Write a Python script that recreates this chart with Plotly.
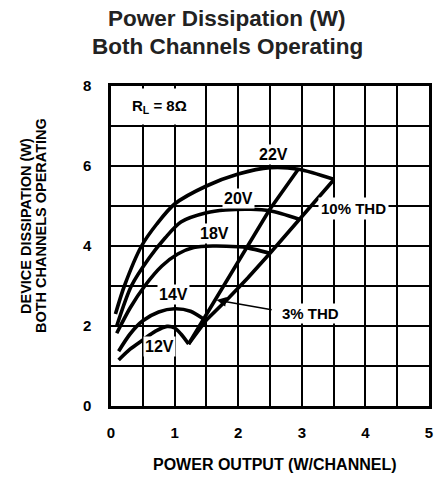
import plotly.graph_objects as go

# ---- data ----
v22_x = [0.07, 0.21, 0.48, 0.72, 1.0, 1.5, 2.0, 2.5, 2.95, 3.5]
v22_y = [2.3, 3.0, 4.0, 4.55, 5.05, 5.5, 5.8, 5.96, 5.92, 5.67]

v20_x = [0.09, 0.32, 0.6, 0.85, 1.1, 1.5, 1.8, 2.2, 2.5, 2.96]
v20_y = [2.0, 3.0, 3.7, 4.2, 4.6, 4.83, 4.9, 4.92, 4.88, 4.67]

v18_x = [0.09, 0.3, 0.53, 0.8, 1.05, 1.3, 1.6, 2.0, 2.13, 2.5]
v18_y = [1.82, 2.45, 3.0, 3.5, 3.8, 3.96, 4.0, 3.98, 3.96, 3.82]

v14_x = [0.12, 0.3, 0.5, 0.75, 1.0, 1.25, 1.45]
v14_y = [1.37, 1.8, 2.13, 2.35, 2.43, 2.37, 2.18]

v12_x = [0.12, 0.3, 0.5, 0.7, 0.88, 1.0, 1.1, 1.22]
v12_y = [1.15, 1.42, 1.65, 1.87, 1.99, 1.95, 1.8, 1.55]

thd3_x = [1.22, 1.82, 2.13, 2.49, 2.95]
thd3_y = [1.55, 3.15, 3.97, 4.9, 5.93]

thd10_x = [1.22, 1.5, 1.85, 2.15, 2.5, 2.96, 3.5]
thd10_y = [1.55, 2.15, 2.7, 3.2, 3.82, 4.67, 5.65]

curve_names = ["22V", "20V", "18V", "14V", "12V"]
label_x = [2.55, 2.0, 1.635, 0.98, 0.77]
label_y = [6.28, 5.19, 4.32, 2.78, 1.48]

x_tickvals = [0, 0.5, 1, 1.5, 2, 2.5, 3, 3.5, 4, 4.5, 5]
x_ticktext = ["0", "", "1", "", "2", "", "3", "", "4", "", "5"]
y_tickvals = [0, 1, 2, 3, 4, 5, 6, 7, 8]
y_ticktext = ["0", "", "2", "", "4", "", "6", "", "8"]

title_lines = ["Power Dissipation (W)", "Both Channels Operating"]
x_title = "POWER OUTPUT (W/CHANNEL)"
y_title_lines = ["DEVICE DISSIPATION (W)", "BOTH CHANNELS OPERATING"]
rl_text = "R<sub>L</sub> = 8Ω"

FONT = "Liberation Sans, Arial, Helvetica, sans-serif"
LW = 3.6

W, H = 437, 478
ML, MR, MT, MB = 111, 8, 86, 72
PW, PH = W - ML - MR, H - MT - MB


def px_to_paper(px, py):
    return (px - ML) / PW, (H - MB - py) / PH


def bfont(size, color="black"):
    return dict(family=FONT, size=size, color=color, weight="bold")


fig = go.Figure()
for xs, ys in [(v22_x, v22_y), (v20_x, v20_y), (v18_x, v18_y), (v14_x, v14_y), (v12_x, v12_y)]:
    fig.add_trace(go.Scatter(x=xs, y=ys, mode="lines",
                             line=dict(color="black", width=LW, shape="spline", smoothing=0.8),
                             hoverinfo="skip", showlegend=False))
for xs, ys in [(thd3_x, thd3_y), (thd10_x, thd10_y)]:
    fig.add_trace(go.Scatter(x=xs, y=ys, mode="lines",
                             line=dict(color="black", width=LW),
                             hoverinfo="skip", showlegend=False))

annotations = []
for name, lx, ly in zip(curve_names, label_x, label_y):
    annotations.append(dict(x=lx, y=ly, xref="x", yref="y", text=name,
                            showarrow=False, bgcolor="white", borderpad=1,
                            font=bfont(16)))
annotations.append(dict(x=3.81, y=4.94, xref="x", yref="y", text="10% THD",
                        showarrow=False, bgcolor="white", borderpad=2, font=bfont(15)))
annotations.append(dict(x=3.13, y=2.32, xref="x", yref="y", text="3% THD",
                        showarrow=False, bgcolor="white", borderpad=1, font=bfont(15)))
annotations.append(dict(x=1.66, y=2.65, xref="x", yref="y", ax=2.55, ay=2.4,
                        axref="x", ayref="y", text="", showarrow=True,
                        arrowhead=2, arrowsize=1.2, arrowwidth=1.6, arrowcolor="black"))
annotations.append(dict(x=0.77, y=7.48, xref="x", yref="y", text=rl_text,
                        showarrow=False, bgcolor="white", borderpad=8, font=bfont(15)))
for line, px in zip(y_title_lines, [26, 41]):
    ax_, ay_ = px_to_paper(px, 226)
    annotations.append(dict(x=ax_, y=ay_, xref="paper", yref="paper", xanchor="center",
                            yanchor="middle", text=line, textangle=-90,
                            showarrow=False, font=bfont(14.5)))
for line, py in zip(title_lines, [19, 46]):
    tx, ty = px_to_paper(227, py)
    annotations.append(dict(x=tx, y=ty, xref="paper", yref="paper", xanchor="center",
                            yanchor="middle", text=line, showarrow=False,
                            font=bfont(22.5, "#222")))
xtx, xty = px_to_paper(274.5, 464)
annotations.append(dict(x=xtx, y=xty, xref="paper", yref="paper", xanchor="center",
                        yanchor="middle", text=x_title, showarrow=False, font=bfont(16)))

fig.update_layout(
    width=W, height=H,
    margin=dict(l=ML, r=MR, t=MT, b=MB, autoexpand=False),
    paper_bgcolor="white", plot_bgcolor="white",
    annotations=annotations,
    xaxis=dict(range=[0, 5], tickvals=x_tickvals, ticktext=x_ticktext,
               showgrid=True, gridcolor="black", gridwidth=1.5,
               showline=True, linecolor="black", linewidth=2.5, mirror=True,
               zeroline=False, ticks="", ticklabelstandoff=11, automargin=False,
               tickfont=bfont(15)),
    yaxis=dict(range=[0, 8], tickvals=y_tickvals, ticktext=y_ticktext,
               showgrid=True, gridcolor="black", gridwidth=1.5,
               showline=True, linecolor="black", linewidth=2.5, mirror=True,
               zeroline=False, ticks="", ticklabelstandoff=14, automargin=False,
               tickfont=bfont(15)),
)

fig.write_html("out.html", config={"displayModeBar": False},
               post_script="document.body.style.margin='0';")
